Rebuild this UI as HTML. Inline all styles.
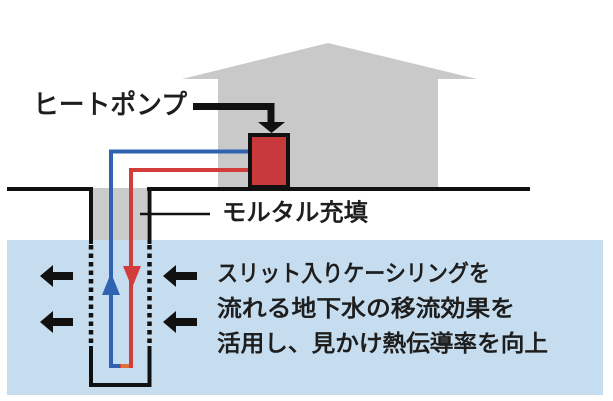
<!DOCTYPE html>
<html><head><meta charset="utf-8"><style>
html,body{margin:0;padding:0;background:#fff;}
svg{display:block;}
text{font-family:"Liberation Sans","Noto Sans CJK JP",sans-serif;fill:#1e1e1e;stroke:#1e1e1e;stroke-width:0.8px;}
</style></head><body>
<svg width="613" height="401" viewBox="0 0 613 401" xmlns="http://www.w3.org/2000/svg">
<rect width="613" height="401" fill="#fff"/>
<!-- house -->
<polygon points="182,79 328,43 477,79 438,79 438,188 218,188 218,79" fill="#c9c9c9"/>
<!-- water -->
<rect x="7" y="240" width="596" height="155" fill="#c6ddef"/>
<!-- mortar -->
<rect x="93" y="188" width="54" height="52" fill="#cbcbcb"/>
<!-- ground -->
<line x1="7" y1="189" x2="93" y2="189" stroke="#111" stroke-width="4"/>
<line x1="147" y1="189" x2="530" y2="189" stroke="#111" stroke-width="4"/>
<!-- pit walls -->
<g stroke="#111" stroke-width="4" fill="none">
<line x1="91" y1="187" x2="91" y2="244"/>
<line x1="149.5" y1="187" x2="149.5" y2="244"/>
<line x1="91" y1="245" x2="91" y2="345" stroke-dasharray="4.5 4" stroke-width="4.5"/>
<line x1="149.5" y1="245" x2="149.5" y2="345" stroke-dasharray="4.5 4" stroke-width="4.5"/>
<polyline points="91,346 91,385 149.5,385 149.5,346"/>
</g>
<!-- pipes -->
<g fill="none" stroke-width="4">
<polyline points="248,151.5 111,151.5 111,366 122,366" stroke="#2f62b1"/>
<polyline points="248,170 131,170 131,366 120,366" stroke="#d23c3a"/>
</g>
<line x1="121" y1="366" x2="129" y2="366" stroke="#e0703a" stroke-width="4"/>
<polygon points="111,273 102,295 120,295" fill="#2f62b1"/>
<polygon points="123,266 141,266 132,288" fill="#d23c3a"/>
<!-- heat pump -->
<rect x="250" y="135" width="38" height="52" fill="#c8393b" stroke="#111" stroke-width="4"/>
<polyline points="193,106.5 271,106.5 271,123" fill="none" stroke="#111" stroke-width="7"/>
<polygon points="258,122 285,122 271.5,133" fill="#111"/>
<!-- mortar leader -->
<line x1="140" y1="214" x2="210" y2="214" stroke="#111" stroke-width="2.5"/>
<!-- flow arrows -->
<g fill="#111">
<polygon points="40,276 53,265 53,272 73,272 73,280 53,280 53,287"/>
<polygon points="40,322 53,311 53,318 73,318 73,326 53,326 53,333"/>
<polygon points="163,276 176,265 176,272 197,272 197,280 176,280 176,287"/>
<polygon points="163,322 176,311 176,318 197,318 197,326 176,326 176,333"/>
</g>
<!-- labels -->
<text x="33" y="114" font-size="27" textLength="154" lengthAdjust="spacingAndGlyphs">ヒートポンプ</text>
<text x="222" y="220.5" font-size="24" textLength="146" lengthAdjust="spacingAndGlyphs">モルタル充填</text>
<text x="217" y="281" font-size="23" textLength="273" lengthAdjust="spacingAndGlyphs">スリット入りケーシリングを</text>
<text x="217" y="316" font-size="23" textLength="298" lengthAdjust="spacingAndGlyphs">流れる地下水の移流効果を</text>
<text x="217" y="351" font-size="23" textLength="331" lengthAdjust="spacingAndGlyphs">活用し、見かけ熱伝導率を向上</text>
</svg>
</body></html>
